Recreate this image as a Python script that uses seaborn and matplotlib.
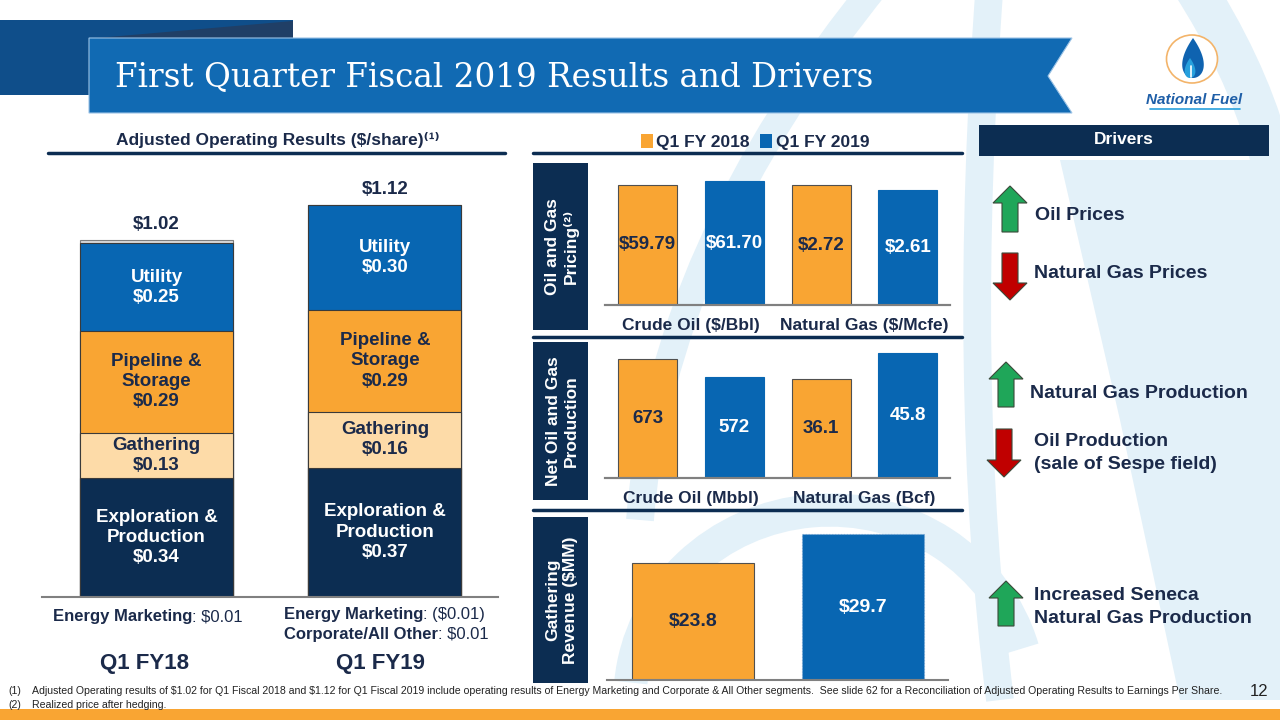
import numpy as np
import pandas as pd
import matplotlib.pyplot as plt
import seaborn as sns
from matplotlib.patches import Rectangle, Polygon, Ellipse, Patch, PathPatch, Arc
from matplotlib.path import Path

# Data
periods = ["Q1 FY18", "Q1 FY19"]
ep_values = [0.34, 0.37]
gathering_values = [0.13, 0.16]
pipeline_values = [0.29, 0.29]
utility_values = [0.25, 0.30]
total_values = [1.02, 1.12]
segment_names = ["Exploration &\nProduction", "Gathering", "Pipeline &\nStorage", "Utility"]

years = ["Q1 FY 2018", "Q1 FY 2019"]
price_cats = ["Crude Oil ($/Bbl)", "Natural Gas ($/Mcfe)"]
crude_price = [59.79, 61.70]
gas_price = [2.72, 2.61]
prod_cats = ["Crude Oil (Mbbl)", "Natural Gas (Bcf)"]
crude_prod = [673, 572]
gas_prod = [36.1, 45.8]
gathering_rev = [23.8, 29.7]

drivers = [("Oil Prices", "up"), ("Natural Gas Prices", "down"),
           ("Natural Gas Production", "up"), ("Oil Production\n(sale of Sespe field)", "down"),
           ("Increased Seneca\nNatural Gas Production", "up")]

# colours
ORANGE = "#F9A533"
BLUE = "#0866B2"
NAVY = "#0C2D52"
PEACH = "#FDDBA8"
TXT = "#1B2A4A"
WASH = "#E3F1F9"

sns.set_style("white")
plt.rcParams["font.family"] = ["Liberation Sans", "DejaVu Sans"]
plt.rcParams["text.parse_math"] = False

W, H = 1280, 720
fig = plt.figure(figsize=(12.8, 7.2), dpi=100)


def rect(x0, y0, x1, y1):
    # pixel box (top-left origin) -> figure fraction
    return [x0 / W, 1 - y1 / H, (x1 - x0) / W, (y1 - y0) / H]


# background layer in pixel coordinates
bg = fig.add_axes([0, 0, 1, 1], zorder=0)
bg.set_xlim(0, W)
bg.set_ylim(H, 0)
bg.axis("off")

# faint watermark swooshes
def swoosh(pts, lw):
    codes = [Path.MOVETO] + [Path.CURVE3] * (len(pts) - 1)
    bg.add_patch(PathPatch(Path(pts, codes), fill=False, ec=WASH, lw=lw, capstyle="butt"))

swoosh([(880, -20), (660, 250), (640, 520)], 20)
bg.add_patch(Arc((830, 700), 400, 380, theta1=185, theta2=345, ec=WASH, lw=24))
swoosh([(990, -20), (960, 380), (1000, 700)], 20)
swoosh([(1190, -20), (1300, 150), (1280, 300)], 30)
bg.add_patch(Polygon([(1060, 160), (1280, 160), (1280, 700), (1180, 700), (1120, 420)],
                     closed=True, fc=WASH, ec="none"))

# header ribbon
bg.add_patch(Rectangle((0, 20), 293, 75, fc="#0F4E8A", ec="none"))
bg.add_patch(Polygon([(97, 38), (293, 21), (293, 38)], closed=True, fc="#203F66", ec="none"))
bg.add_patch(Polygon([(89, 38), (1072, 38), (1048, 76), (1072, 113), (89, 113)],
                     closed=True, fc="#116AB3", ec="#9CC3E6", lw=0.8))
bg.text(115, 77, "First Quarter Fiscal 2019 Results and Drivers", color="white",
        fontsize=23.5, family="DejaVu Serif", va="center", ha="left")

# logo
bg.add_patch(Ellipse((1192, 59), 51, 48, fc="white", ec="#F3B46A", lw=1.2))
t = np.linspace(0, 2 * np.pi, 80)
drop_x = 1193 + 14 * np.sin(t) * np.sin(t / 2)
drop_y = 38 + 40 * (1 - np.cos(t)) / 2
bg.add_patch(Polygon(np.column_stack([drop_x, drop_y]), closed=True, fc="#0F63B0", ec="none"))
bg.add_patch(Polygon(np.column_stack([1190 + 7 * np.sin(t) * np.sin(t / 2), 58 + 20 * (1 - np.cos(t)) / 2]),
                     closed=True, fc="#27A0DD", ec="none"))
bg.plot([1191, 1191], [66, 77], color="white", lw=1.2)
bg.text(1194, 100, "National Fuel", color="#1F5FA8", fontsize=11, fontweight="bold",
        style="italic", ha="center", va="center")
bg.plot([1150, 1240], [109, 109], color="#27A0DD", lw=1.2)

# section headings
bg.text(278, 140, "Adjusted Operating Results ($/share)⁽¹⁾", color=TXT, fontsize=12.5,
        fontweight="bold", ha="center", va="center")
bg.plot([48, 505], [153, 153], color=NAVY, lw=2.5)
bg.plot([533, 962], [153, 153], color=NAVY, lw=2.5)
bg.plot([533, 962], [337, 337], color=NAVY, lw=2.5)
bg.plot([533, 962], [510, 510], color=NAVY, lw=2.5)

# side label boxes
for (y0, y1, lab) in [(163, 330, "Oil and Gas\nPricing⁽²⁾"), (342, 500, "Net Oil and Gas\nProduction"),
                      (517, 683, "Gathering\nRevenue ($MM)")]:
    bg.add_patch(Rectangle((533, y0), 55, y1 - y0, fc=NAVY, ec="none"))
    bg.text(562, (y0 + y1) / 2, lab, color="white", fontsize=12.5, fontweight="bold",
            rotation=90, ha="center", va="center", linespacing=1.25)

# drivers box
bg.add_patch(Rectangle((979, 125), 290, 31, fc=NAVY, ec="none"))
bg.text(1124, 140, "Drivers", color="white", fontsize=12.5, fontweight="bold", ha="center", va="center")


def block_arrow(cx, top, bot, up, fc):
    hw, sw, hh = 17, 8, 17
    if up:
        pts = [(cx, top), (cx + hw, top + hh), (cx + sw, top + hh), (cx + sw, bot),
               (cx - sw, bot), (cx - sw, top + hh), (cx - hw, top + hh)]
    else:
        pts = [(cx, bot), (cx + hw, bot - hh), (cx + sw, bot - hh), (cx + sw, top),
               (cx - sw, top), (cx - sw, bot - hh), (cx - hw, bot - hh)]
    bg.add_patch(Polygon(pts, closed=True, fc=fc, ec="#3A4A3A", lw=0.8))


arrow_boxes = [(1010, 186, 232), (1010, 253, 300), (1006, 362, 407), (1004, 429, 477), (1006, 581, 626)]
text_pos = [(1035, 216), (1034, 274), (1030, 393), (1034, 453), (1034, 607)]
for (lab, d), (cx, t0, b0), (tx, ty) in zip(drivers, arrow_boxes, text_pos):
    block_arrow(cx, t0, b0, d == "up", "#1FA659" if d == "up" else "#C00000")
    bg.text(tx, ty, lab, color=TXT, fontsize=14, fontweight="bold", ha="left", va="center",
            linespacing=1.4)

# footnotes
bg.add_patch(Rectangle((0, 709), W, 11, fc=ORANGE, ec="none"))
foot = ["Adjusted Operating results of $1.02 for Q1 Fiscal 2018 and $1.12 for Q1 Fiscal 2019 include operating "
        "results of Energy Marketing and Corporate & All Other segments.  See slide 62 for a Reconciliation of "
        "Adjusted Operating Results to Earnings Per Share.",
        "Realized price after hedging."]
for i, f in enumerate(foot):
    bg.text(8, 691 + 14 * i, f"({i + 1})", color="#222222", fontsize=7.6, va="center")
    bg.text(32, 691 + 14 * i, f, color="#222222", fontsize=7.6, va="center")
bg.text(1268, 691, "12", color="#222222", fontsize=12, ha="right", va="center")

# ---- left stacked chart ----
axl = fig.add_axes(rect(42, 177, 498, 597), zorder=2)
axl.patch.set_alpha(0)
layers = [ep_values, gathering_values, pipeline_values, utility_values]
layer_colors = [NAVY, PEACH, ORANGE, BLUE]
layer_text = ["white", TXT, TXT, "white"]
cum = np.cumsum(layers, axis=0)
sns.barplot(x=periods, y=total_values, color="#D9D9D9", width=0.67, saturation=1,
            edgecolor="#7F7F7F", linewidth=0.8, errorbar=None, ax=axl)
for i in reversed(range(len(layers))):
    sns.barplot(x=periods, y=cum[i], color=layer_colors[i], width=0.67, saturation=1,
                edgecolor="#3A3A3A", linewidth=0.8, errorbar=None, ax=axl)
for j in range(len(periods)):
    for i in range(len(layers)):
        yc = cum[i][j] - layers[i][j] / 2
        axl.text(j, yc, f"{segment_names[i]}\n${layers[i][j]:.2f}", color=layer_text[i],
                 fontsize=13.5, fontweight="bold", ha="center", va="center", linespacing=1.25)
    axl.annotate(f"${total_values[j]:.2f}", (j, total_values[j]), xytext=(0, 5),
                 textcoords="offset points", ha="center", va="bottom", fontsize=13.5,
                 fontweight="bold", color=TXT)
axl.set_xlim(-0.501, 1.495)
axl.set_ylim(0, 1.2)
sns.despine(ax=axl, left=True)
axl.spines["bottom"].set_color("#808080")
axl.spines["bottom"].set_linewidth(1.5)
axl.set_xticks([])
axl.set_yticks([])
axl.set_ylabel("")

# labels below left chart
bg.text(192, 617, "Energy Marketing", color=TXT, fontsize=12, fontweight="bold", ha="right", va="center")
bg.text(192, 617, ": $0.01", color=TXT, fontsize=12, ha="left", va="center")
bg.text(423, 615, "Energy Marketing", color=TXT, fontsize=12, fontweight="bold", ha="right", va="center")
bg.text(423, 615, ": ($0.01)", color=TXT, fontsize=12, ha="left", va="center")
bg.text(438, 634, "Corporate/All Other", color=TXT, fontsize=12, fontweight="bold", ha="right", va="center")
bg.text(438, 634, ": $0.01", color=TXT, fontsize=12, ha="left", va="center")
bg.text(145, 664, periods[0], color=TXT, fontsize=16, fontweight="bold", ha="center", va="center")
bg.text(380, 664, periods[1], color=TXT, fontsize=16, fontweight="bold", ha="center", va="center")

pal = {years[0]: ORANGE, years[1]: BLUE}


def grouped_panel(box, cats, first, second, fmt1, fmt2, top1, top2):
    ax = fig.add_axes(rect(*box), zorder=2)
    ax.patch.set_alpha(0)
    ax2 = ax.twinx()
    ax2.patch.set_alpha(0)
    for a, cat, vals, fmt, top in [(ax, cats[0], first, fmt1, top1), (ax2, cats[1], second, fmt2, top2)]:
        df = pd.DataFrame({"cat": [cat, cat], "year": years, "value": vals})
        sns.barplot(data=df, x="cat", y="value", hue="year", order=cats, hue_order=years,
                    palette=pal, width=1.0, gap=0.32, saturation=1, errorbar=None,
                    legend=False, ax=a, edgecolor="#505050", linewidth=0.8)
        for k, c in enumerate(a.containers):
            a.bar_label(c, fmt=fmt, label_type="center", fontsize=13.5, fontweight="bold",
                        color=TXT if k == 0 else "white")
            if k == 1:
                for p in c:
                    p.set_edgecolor(BLUE)
        a.set_ylim(0, top)
        a.set_yticks([])
        a.set_ylabel("")
        a.set_xlabel("")
    ax.set_xlim(-0.496, 1.493)
    ax.set_xticks([0, 1])
    ax.set_xticklabels(cats, fontsize=12.5, fontweight="bold", color=TXT)
    ax.tick_params(axis="x", length=0, pad=9)
    for a in (ax, ax2):
        for s in ["top", "left", "right"]:
            a.spines[s].set_visible(False)
        a.spines["bottom"].set_color("#808080")
        a.spines["bottom"].set_linewidth(1.5)
    return ax


grouped_panel((605, 165, 950, 305), price_cats, crude_price, gas_price, "${:.2f}", "${:.2f}",
              61.70 * 140 / 124, 2.72 * 140 / 120)
grouped_panel((605, 345, 950, 478), prod_cats, crude_prod, gas_prod, "{:.0f}", "{:.1f}",
              673 * 133 / 119, 45.8 * 133 / 125)

# gathering revenue panel
ax3 = fig.add_axes(rect(607, 520, 948, 680), zorder=2)
ax3.patch.set_alpha(0)
sns.barplot(x=years, y=gathering_rev, hue=years, palette=pal, width=0.716, saturation=1,
            errorbar=None, legend=False, ax=ax3, edgecolor="#505050", linewidth=0.8)
for k, c in enumerate(ax3.containers):
    ax3.bar_label(c, fmt="${:.1f}", label_type="center", fontsize=14, fontweight="bold",
                  color=TXT if k == 0 else "white")
    if k == 1:
        for p in c:
            p.set_edgecolor("#6FA0D0")
            p.set_linestyle(":")
ax3.set_xlim(-0.504, 1.496)
ax3.set_ylim(0, 29.7 * 160 / 146)
ax3.set_xticks([])
ax3.set_yticks([])
ax3.set_ylabel("")
sns.despine(ax=ax3, left=True)
ax3.spines["bottom"].set_color("#808080")
ax3.spines["bottom"].set_linewidth(1.5)

# legend
handles = [Patch(fc=pal[y], ec="none", label=y) for y in years]
fig.legend(handles=handles, loc="center", bbox_to_anchor=(755 / W, 1 - 142 / H), ncol=2,
           frameon=False, handlelength=0.7, handleheight=0.9, handletextpad=0.2, columnspacing=0.6,
           prop={"size": 12.5, "weight": "bold"}, labelcolor=TXT)

fig.savefig("out.png", dpi=100)
